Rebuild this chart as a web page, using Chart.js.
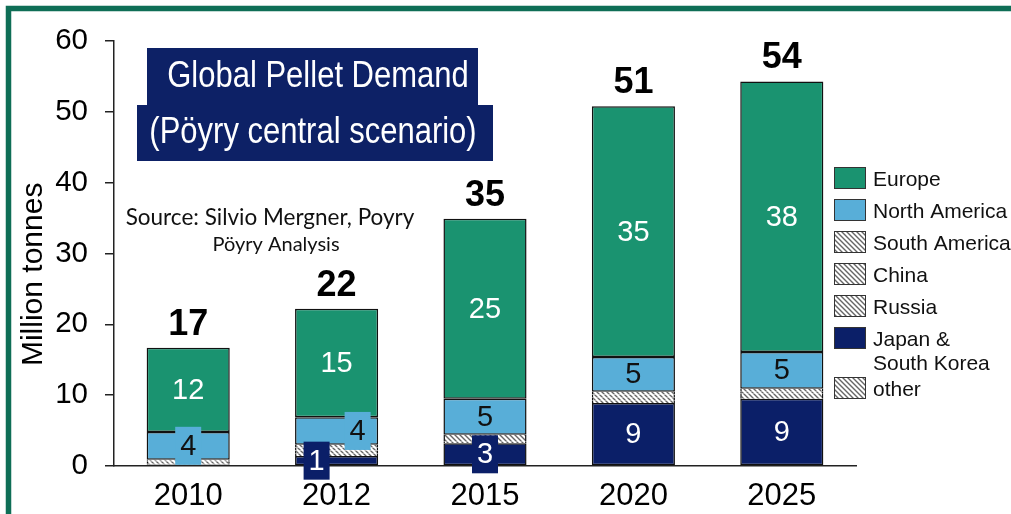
<!DOCTYPE html>
<html>
<head>
<meta charset="utf-8">
<script src="https://cdn.jsdelivr.net/npm/chart.js@4"></script>
<style>
  html, body { margin: 0; padding: 0; background: #fff; }
  #wrap { width: 1011px; height: 514px; position: relative; }
</style>
</head>
<body>
<div id="wrap"><canvas id="pelletChart"></canvas></div>
<script>
// data (million tonnes)
const years = ['2010', '2012', '2015', '2020', '2025'];
const japanKorea = [0.2, 1.4, 3.2, 8.9, 9.5];
const other = [0.2, 0.4, 0.3, 0.4, 0.4];
const russia = [0.2, 0.4, 0.3, 0.4, 0.3];
const china = [0.2, 0.4, 0.3, 0.4, 0.3];
const southAmerica = [0.1, 0.4, 0.3, 0.4, 0.4];
const northAmerica = [3.9, 3.9, 5.1, 4.9, 5.2];
const europe = [11.9, 15.3, 25.4, 35.4, 38.2];
const totalLabels = ['17', '22', '35', '51', '54'];
const europeLabels = ['12', '15', '25', '35', '38'];
const northAmLabels = ['4', '4', '5', '5', '5'];
const japanLabels = ['', '1', '3', '9', '9'];
const yTicks = [0, 10, 20, 30, 40, 50, 60];

const GREEN = '#1a9370';
const BLUE = '#58aed8';
const NAVY = '#0b1f68';

// hatch for the small regions
function makeHatch() {
    var c = document.createElement('canvas');
    c.width = 5; c.height = 5;
    var g = c.getContext('2d');
    g.fillStyle = '#fff';
    g.fillRect(0, 0, 5, 5);
    g.strokeStyle = '#666';
    g.lineWidth = 1.4;
    g.beginPath();
    g.moveTo(-1, -1); g.lineTo(6, 6);
    g.moveTo(-4, 1); g.lineTo(4, 9);
    g.moveTo(1, -4); g.lineTo(9, 4);
    g.stroke();
    return g.createPattern(c, 'repeat');
}
var hatch = makeHatch();
var sideBorder = { left: 1.5, right: 1.5, top: 0, bottom: 0 };

function ds(label, data, color, border) {
    return {
        label: label,
        data: data,
        backgroundColor: color,
        borderColor: '#111',
        borderWidth: border,
        borderSkipped: false,
        stack: 's'
    };
}

var datasets = [
    ds('Japan & South Korea', japanKorea, NAVY, 1.5),
    ds('other', other, hatch, sideBorder),
    ds('Russia', russia, hatch, sideBorder),
    ds('China', china, hatch, sideBorder),
    ds('South America', southAmerica, hatch, sideBorder),
    ds('North America', northAmerica, BLUE, 1.5),
    ds('Europe', europe, GREEN, 1.5)
];
var legendOrder = ['Europe', 'North America', 'South America', 'China', 'Russia', 'Japan & South Korea', 'other'];

// white page + green frame
const framePlugin = {
    id: 'frame',
    beforeDraw(chart) {
        var ctx = chart.ctx;
        ctx.save();
        ctx.fillStyle = '#fff';
        ctx.fillRect(0, 0, chart.width, chart.height);
        ctx.strokeStyle = '#0f6e56';
        ctx.lineWidth = 5.5;
        ctx.strokeRect(8.5, 8.5, 1200, 700);
        ctx.restore();
    }
};

// labels inside and on top of bars
const labelPlugin = {
    id: 'barLabels',
    afterDatasetsDraw(chart) {
        var ctx = chart.ctx;
        var sets = [
            { idx: 6, labels: europeLabels, color: '#fff', box: [0, 0, 0, 0, 0], dx: [0, 0, 0, 0, 0] },
            { idx: 5, labels: northAmLabels, color: '#111', box: [1, 1, 0, 0, 0], dx: [0, 21, 0, 0, 0] },
            { idx: 0, labels: japanLabels, color: '#fff', box: [0, 1, 1, 0, 0], dx: [0, -20, 0, 0, 0] }
        ];
        ctx.save();
        ctx.textAlign = 'center';
        ctx.textBaseline = 'middle';
        ctx.font = '29px "Liberation Sans", Arial, sans-serif';
        sets.forEach(function (s) {
            var meta = chart.getDatasetMeta(s.idx);
            var fill = chart.data.datasets[s.idx].backgroundColor;
            meta.data.forEach(function (bar, j) {
                if (!s.labels[j]) return;
                var x = bar.x + s.dx[j];
                var y = (bar.y + bar.base) / 2;
                if (s.box[j]) {
                    ctx.fillStyle = fill;
                    ctx.fillRect(x - 13, y - 19, 26, 38);
                }
                ctx.fillStyle = s.color;
                ctx.fillText(s.labels[j], x, y + 1);
            });
        });
        // totals
        var top = chart.getDatasetMeta(6);
        ctx.font = 'bold 36px "Liberation Sans", Arial, sans-serif';
        ctx.fillStyle = '#000';
        ctx.textBaseline = 'alphabetic';
        top.data.forEach(function (bar, j) {
            ctx.fillText(totalLabels[j], bar.x, bar.y - 13);
        });
        ctx.restore();
    }
};

// title boxes, source note, legend
const annotPlugin = {
    id: 'annot',
    afterDraw(chart) {
        var ctx = chart.ctx;
        ctx.save();
        ctx.fillStyle = '#0d2166';
        ctx.fillRect(147, 48, 331, 58);
        ctx.fillRect(137, 105, 356, 56);
        ctx.fillStyle = '#fff';
        ctx.textAlign = 'center';
        ctx.textBaseline = 'middle';
        ctx.font = '31px "Liberation Sans", Arial, sans-serif';
        ctx.save();
        ctx.scale(1, 1.18);
        ctx.fillText('Global Pellet Demand', 318, 77 / 1.18);
        ctx.fillText('(Pöyry central scenario)', 313, 133 / 1.18);
        ctx.restore();

        ctx.fillStyle = '#111';
        ctx.font = '22.5px Lato, "Open Sans", sans-serif';
        ctx.fillText('Source: Silvio Mergner, Poyry', 270, 218);
        ctx.font = '20px Lato, "Open Sans", sans-serif';
        ctx.fillText('Pöyry Analysis', 276, 245);

        // legend
        ctx.textAlign = 'left';
        ctx.font = '21px "Liberation Sans", Arial, sans-serif';
        var y = 178;
        legendOrder.forEach(function (name) {
            var d = chart.data.datasets.find(function (x) { return x.label === name; });
            var lines = name.replace('& ', '&\n').split('\n');
            if (name === 'other') y += 18;
            ctx.fillStyle = d.backgroundColor;
            ctx.fillRect(834, y - 11, 32, 22);
            ctx.strokeStyle = '#333';
            ctx.lineWidth = 1;
            ctx.strokeRect(834.5, y - 10.5, 31, 21);
            ctx.fillStyle = '#111';
            lines.forEach(function (t, k) {
                ctx.fillText(t, 873, y + 2 + k * 24);
            });
            y += 32;
        });
        ctx.restore();
    }
};

new Chart(document.getElementById('pelletChart'), {
    type: 'bar',
    data: { labels: years, datasets: datasets },
    options: {
        responsive: true,
        maintainAspectRatio: false,
        animation: false,
        datasets: { bar: { categoryPercentage: 1, barPercentage: 0.56 } },
        layout: { padding: { left: 12, right: 155, top: 41, bottom: 0 } },
        plugins: { legend: { display: false }, tooltip: { enabled: false } },
        scales: {
            x: {
                stacked: true,
                grid: { display: false },
                border: { display: true, color: '#222', width: 1.5 },
                ticks: { color: '#000', padding: 4, font: { size: 31, family: '"Liberation Sans", Arial' } },
                afterFit: function (s) { s.height = 48; }
            },
            y: {
                stacked: true,
                min: 0,
                max: 60,
                afterBuildTicks: function (s) { s.ticks = yTicks.map(function (v) { return { value: v }; }); },
                grid: { drawOnChartArea: false, tickLength: 9, color: '#222', lineWidth: 1.5 },
                border: { display: true, color: '#222', width: 1.5 },
                ticks: { color: '#000', padding: 17, font: { size: 29.5, family: '"Liberation Sans", Arial' } },
                title: { display: true, text: 'Million tonnes     ', color: '#000', padding: 4, font: { size: 30, family: '"Liberation Sans", Arial' } },
                afterFit: function (s) { s.width = 102; }
            }
        }
    },
    plugins: [framePlugin, labelPlugin, annotPlugin]
});
</script>
</body>
</html>
